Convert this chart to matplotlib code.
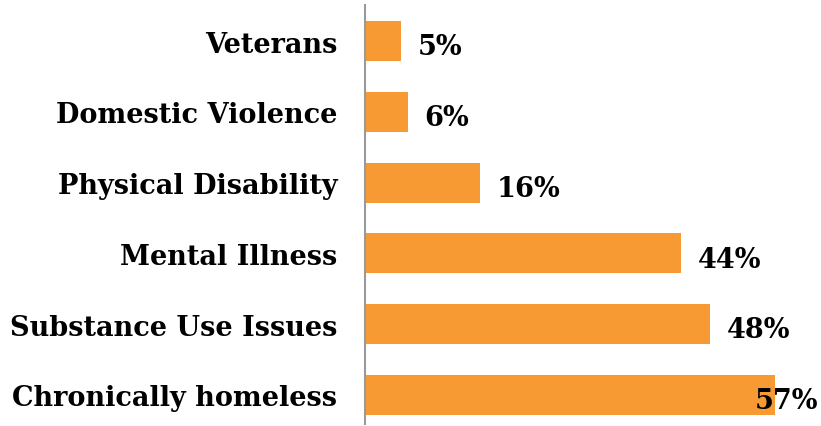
import numpy as np
import matplotlib.pyplot as plt

# -------------------------------------------------
# Data
# -------------------------------------------------
categories = ["Chronically homeless", "Substance Use Issues", "Mental Illness",
              "Physical Disability", "Domestic Violence", "Veterans"]
values = [57, 48, 44, 16, 6, 5]

bar_color = "#F79A33"
xmax = 63

plt.rcParams['font.family'] = ['DejaVu Serif']

fig = plt.figure(figsize=(8.21, 4.27), dpi=100)
ax = fig.add_axes([365 / 821, 2 / 427, 453 / 821, 419 / 427])

y = np.arange(len(categories))
ax.barh(y, values, height=0.565, color=bar_color)

ax.set_xlim(0, xmax)
ax.set_ylim(-0.41, 5.51)

ax.set_yticks(y)
ax.set_yticklabels(categories, fontsize=19.5, fontweight="bold")
ax.tick_params(axis="y", length=0, pad=20)
ax.set_xticks([])

for s in ["top", "right", "bottom"]:
    ax.spines[s].set_visible(False)
ax.spines["left"].set_color("#999999")
ax.spines["left"].set_linewidth(1.5)

# value labels
for yi, v in zip(y, values):
    if v + 2.3 + 8 > xmax:
        ax.text(xmax, yi - 0.08, f"{v}%", ha="right", va="center",
                fontsize=19.5, fontweight="bold", clip_on=False)
    else:
        ax.text(v + 2.3, yi - 0.08, f"{v}%", ha="left", va="center",
                fontsize=19.5, fontweight="bold")

plt.savefig("out.png", dpi=100)
plt.close()
